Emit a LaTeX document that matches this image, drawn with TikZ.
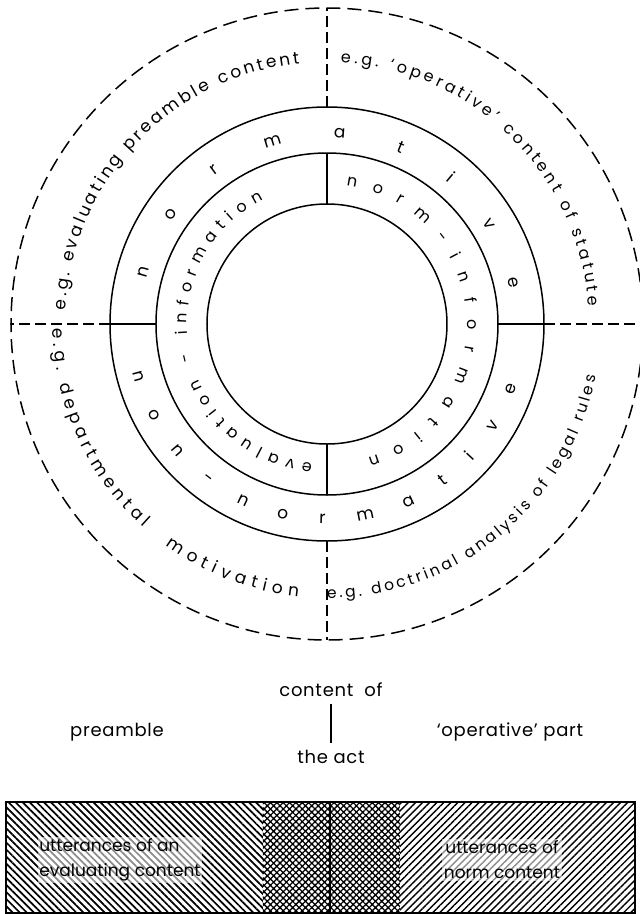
\documentclass[tikz,border=0pt]{standalone}
\usepackage{fontspec}
\setmainfont{Poppins}
\usetikzlibrary{decorations.text,patterns.meta}
% text set along a circular arc: radius, start angle, end angle, size, text
\newcommand{\ringtext}[5]{%
  \path[decorate,decoration={text along path,text align={fit to path},
    text={|\fontsize{#4}{#4}\selectfont|#5}}]
    (#2:#1) arc[start angle=#2,end angle=#3,radius=#1];}

\begin{document}
\begin{tikzpicture}[x=1pt,y=1pt,
  ring/.style={line width=1.5pt},
  split/.style={line width=2pt},
  outer/.style={line width=1.5pt,dash pattern=on 14pt off 7pt},
  divide/.style={line width=1.5pt,dash pattern=on 11pt off 5pt},
  lbl/.style={font=\fontsize{18}{26}\selectfont\addfontfeature{LetterSpace=4},inner sep=0pt},
  boxtext/.style={font=\fontsize{17}{25}\selectfont,inner sep=1.5pt,
    fill=white,fill opacity=0.55,text opacity=1}]
  \useasboundingbox (-327,-590) rectangle (313,324);
  % circles
  \draw[ring] (0,0) circle (120pt);
  \draw[ring] (0,0) circle (171pt);
  \draw[ring] (0,0) circle (217pt);
  \draw[outer] (0,0) circle (316pt);
  % dividers
  \draw[split] (90:120pt) -- (90:171pt);
  \draw[split] (270:120pt) -- (270:171pt);
  \draw[split] (180:171pt) -- (180:217pt);
  \draw[split] (0:171pt) -- (0:217pt);
  \foreach \a in {0,90,180,270}
    \draw[divide] (\a:217pt) -- (\a:316pt);
  % outer quadrants
  \ringtext{262pt}{177}{96}{17}{e.g. evaluating preamble content}
  \ringtext{262pt}{87}{4}{16}{e.g. ‘operative’ content of statute}
  \ringtext{274pt}{181}{228}{17}{e.g. departmental}
  \ringtext{274pt}{234}{264}{17}{motivation}
  \ringtext{274pt}{270}{349}{15.5}{e.g. doctrinal analysis of legal rules}
  % normative ring
  \ringtext{186pt}{166}{11}{17}{normative}
  \ringtext{200pt}{194}{342}{17}{non-normative}
  % information ring
  \ringtext{140pt}{82}{-73}{16}{norm-information}
  \ringtext{140pt}{264}{117}{16}{evaluation - information}
  % labels below
  \node[lbl] (content) at (4,-366) {content\ \ of};
  \node[lbl] (act) at (4,-433) {the act};
  \draw[split,shorten <=7pt,shorten >=7pt] (content) -- (act);
  \node[lbl] (preamble) at (-210,-408) {preamble};
  \node[lbl] (operative) at (183,-408) {‘operative’ part};
  % hatched bar
  \fill[pattern={Lines[angle=-45,distance=5pt,line width=1.7pt]}] (-321,-478) rectangle (-64,-589);
  \fill[pattern={Hatch[angle=45,distance=4.5pt,line width=1.3pt]}] (-64,-478) rectangle (73,-589);
  \fill[pattern={Lines[angle=45,distance=5pt,line width=1.4pt]}] (73,-478) rectangle (308,-589);
  \draw[split] (-321,-478) rectangle (308,-589);
  \draw[split] (3,-478) -- (3,-589);
  \node[boxtext,align=left] (evaltext) at (-207,-536) {utterances of an\\evaluating content};
  \node[boxtext,align=center] (normtext) at (175,-536) {utterances of\\norm content};
\end{tikzpicture}
\end{document}
